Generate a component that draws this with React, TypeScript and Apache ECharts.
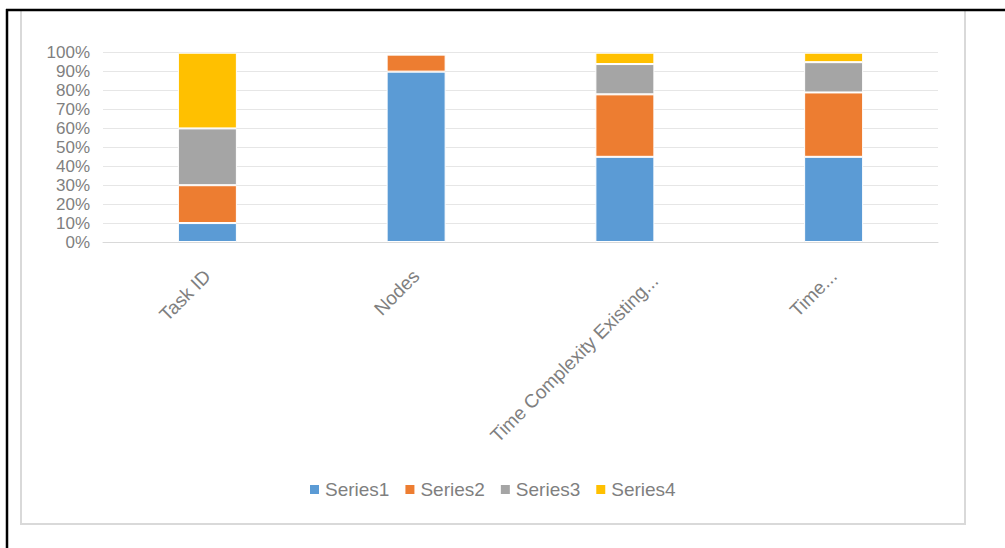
import React, { useEffect, useRef } from "react";
import * as echarts from "echarts";

const categories = ["Task ID", "Nodes", "Time Complexity Existing...", "Time..."];
const series1 = [10, 90, 45, 45];
const series2 = [20, 9, 33, 34];
const series3 = [30, 0, 16, 16];
const series4 = [40, 0, 6, 5];
const seriesNames = ["Series1", "Series2", "Series3", "Series4"];
const seriesColors = ["#5b9bd5", "#ed7d31", "#a5a5a5", "#ffc000"];
const yTicks = { min: 0, max: 100, interval: 10 };

export default function App() {
  const ref = useRef<HTMLDivElement>(null);
  useEffect(() => {
    document.body.style.margin = "0";
    if (!ref.current) return;
    const chart = echarts.init(ref.current, undefined, { renderer: "svg" });
    const values = [series1, series2, series3, series4];
    const font = "Liberation Sans, Arial, sans-serif";
    const xData = categories.map((c, i) =>
      i === 2 ? { value: c, textStyle: { padding: [0, -18, 0, 0], lineHeight: 49 } } : c
    );
    chart.setOption({
      animation: false,
      backgroundColor: "#ffffff",
      graphic: [
        { type: "rect", shape: { x: 21, y: 10, width: 944, height: 514 }, style: { fill: "none", stroke: "#d9d9d9", lineWidth: 2 }, silent: true },
        { type: "line", shape: { x1: 6, y1: 10, x2: 1005, y2: 10 }, style: { stroke: "#000", lineWidth: 2.5 }, silent: true },
        { type: "line", shape: { x1: 7, y1: 9, x2: 7, y2: 548 }, style: { stroke: "#000", lineWidth: 2.5 }, silent: true },
      ],
      legend: {
        data: seriesNames,
        top: 475,
        left: 303,
        itemWidth: 11,
        itemHeight: 11,
        itemGap: 14,
        icon: "rect",
        textStyle: { fontFamily: font, fontSize: 19, color: "#7f7f7f" },
      },
      grid: { left: 103, right: 67, top: 52.7, bottom: 306, containLabel: false },
      xAxis: {
        type: "category",
        data: xData,
        axisLine: { lineStyle: { color: "#d9d9d9", width: 1 } },
        axisTick: { show: false },
        axisLabel: {
          rotate: 45,
          interval: 0,
          margin: 31,
          fontFamily: font,
          fontSize: 19,
          color: "#7f7f7f",
          formatter: (v: string, i: number) => (i === 2 ? "\n" + v : v),
        },
      },
      yAxis: {
        type: "value",
        min: yTicks.min,
        max: yTicks.max,
        interval: yTicks.interval,
        axisLine: { show: false },
        axisTick: { show: false },
        splitLine: { lineStyle: { color: "#e6e6e6", width: 1 } },
        axisLabel: {
          formatter: "{value}%",
          margin: 13,
          fontFamily: font,
          fontSize: 17,
          color: "#7f7f7f",
          lineHeight: 17,
        },
      },
      series: values.map((v, i) => ({
        name: seriesNames[i],
        type: "bar",
        stack: "total",
        data: v,
        barWidth: 59,
        itemStyle: { color: seriesColors[i], borderColor: "#ffffff", borderWidth: 1 },
      })),
    });
    return () => chart.dispose();
  }, []);
  return <div ref={ref} style={{ width: 1005, height: 548 }} />;
}
